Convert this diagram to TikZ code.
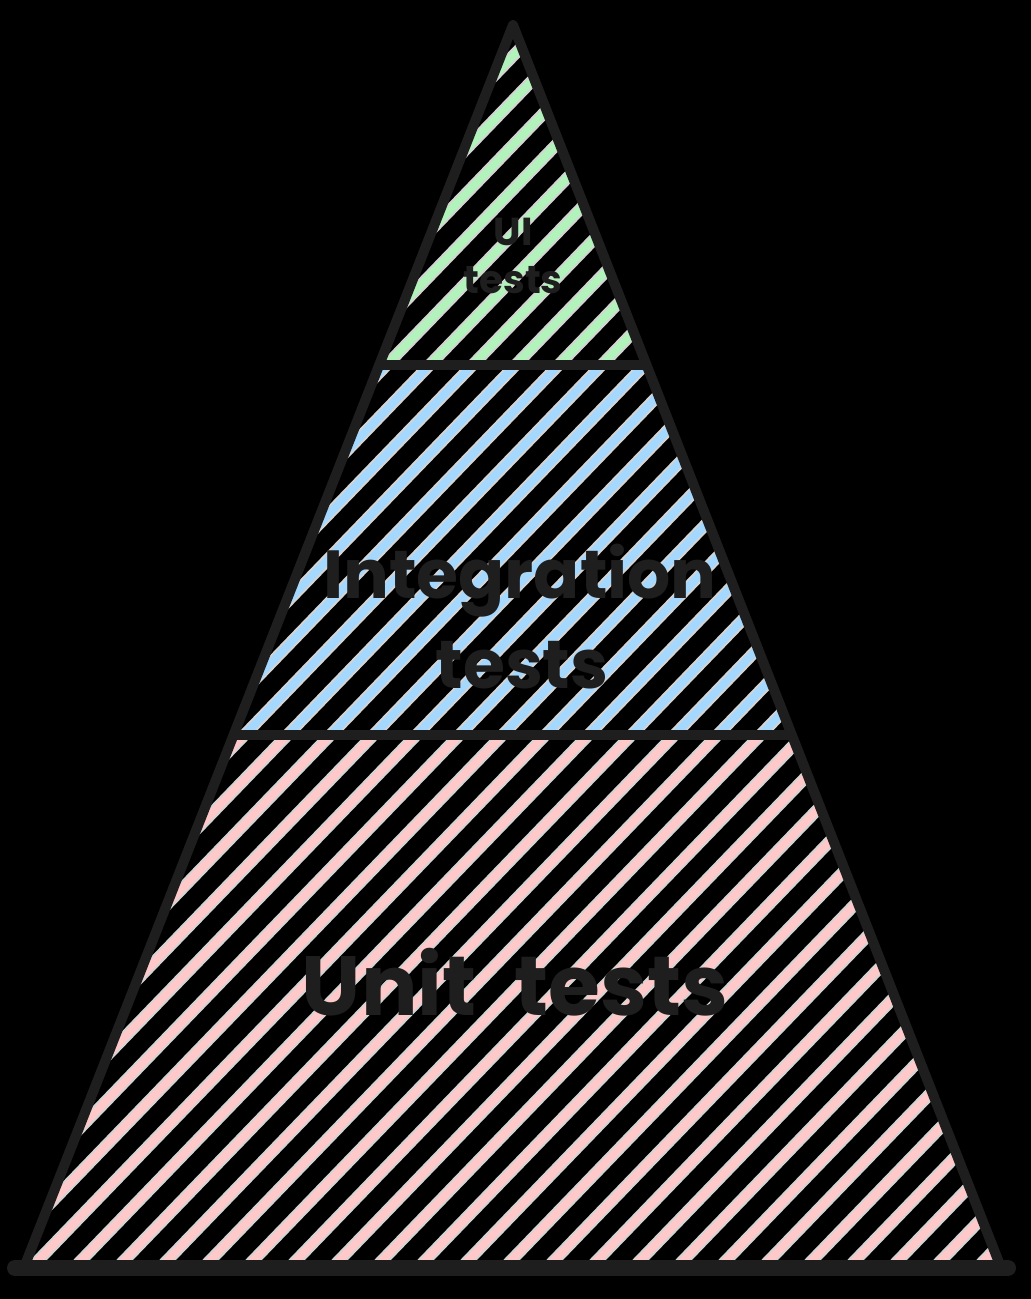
\documentclass[tikz,border=0pt]{standalone}
\usepackage{fontspec}
\setmainfont{Poppins}
\usetikzlibrary{calc}
\definecolor{ink}{HTML}{1E1E1E}
\definecolor{hgreen}{HTML}{B2F2BB}
\definecolor{hblue}{HTML}{A5D8FF}
\definecolor{hpink}{HTML}{FFC9C9}
\definecolor{halo}{HTML}{D4D4D4}
\begin{document}
\begin{tikzpicture}[x=1pt,y=-1pt,
  edge/.style={draw=ink,line width=10pt,line cap=round,line join=round},
  lbl/.style={text=ink,inner sep=0pt,anchor=base},
  midtxt/.style={lbl,font=\bfseries\fontsize{68}{80}\selectfont},
  bigtxt/.style={lbl,font=\bfseries\fontsize{84}{90}\selectfont},
  smalltxt/.style={lbl,font=\bfseries\fontsize{39}{46}\selectfont}]
\fill[black] (0,0) rectangle (1031,1299);
\useasboundingbox (0,0) rectangle (1031,1299);
\coordinate (A) at (513,25);
\coordinate (BL) at (25,1265);
\coordinate (BR) at (1000,1265);
\coordinate (L1) at ($(A)!{340/1240}!(BL)$);
\coordinate (R1) at ($(A)!{340/1240}!(BR)$);
\coordinate (L2) at ($(A)!{710/1240}!(BL)$);
\coordinate (R2) at ($(A)!{710/1240}!(BR)$);
\coordinate (BL0) at (15,1268);
\coordinate (BR0) at (1008,1268);
% hatch fills
\foreach \reg/\col in {1/hgreen,2/hblue,3/hpink}{
  \begin{scope}
    \ifcase\reg\or
      \clip (A) -- (L1) -- (R1) -- cycle;
    \or
      \clip (L1) -- (L2) -- (R2) -- (R1) -- cycle;
    \or
      \clip (L2) -- (BL) -- (BR) -- (R2) -- cycle;
    \fi
    \foreach \c in {-1290,-1247,...,1100}{
      \draw[halo,line width=12pt] (\c,1300) -- ++(1255,-1300);
      \draw[\col,line width=8pt] (\c,1300) -- ++(1255,-1300);
    }
  \end{scope}
}
% outline
\draw[edge] (BL) -- (A) -- (BR);
\draw[edge] (L1) -- (R1);
\draw[edge] (L2) -- (R2);
\draw[edge,line width=16pt] (BL0) -- (BR0);
% labels
\node[smalltxt] (top1) at (513,245) {UI};
\node[smalltxt] (top2) at (513,293) {tests};
\node[midtxt] (mid1) at (520,598) {Integration};
\node[midtxt] (mid2) at (522,688) {tests};
\node[bigtxt] (bot) at (515,1015) {Unit\hspace{0.45em}tests};
\end{tikzpicture}
\end{document}
